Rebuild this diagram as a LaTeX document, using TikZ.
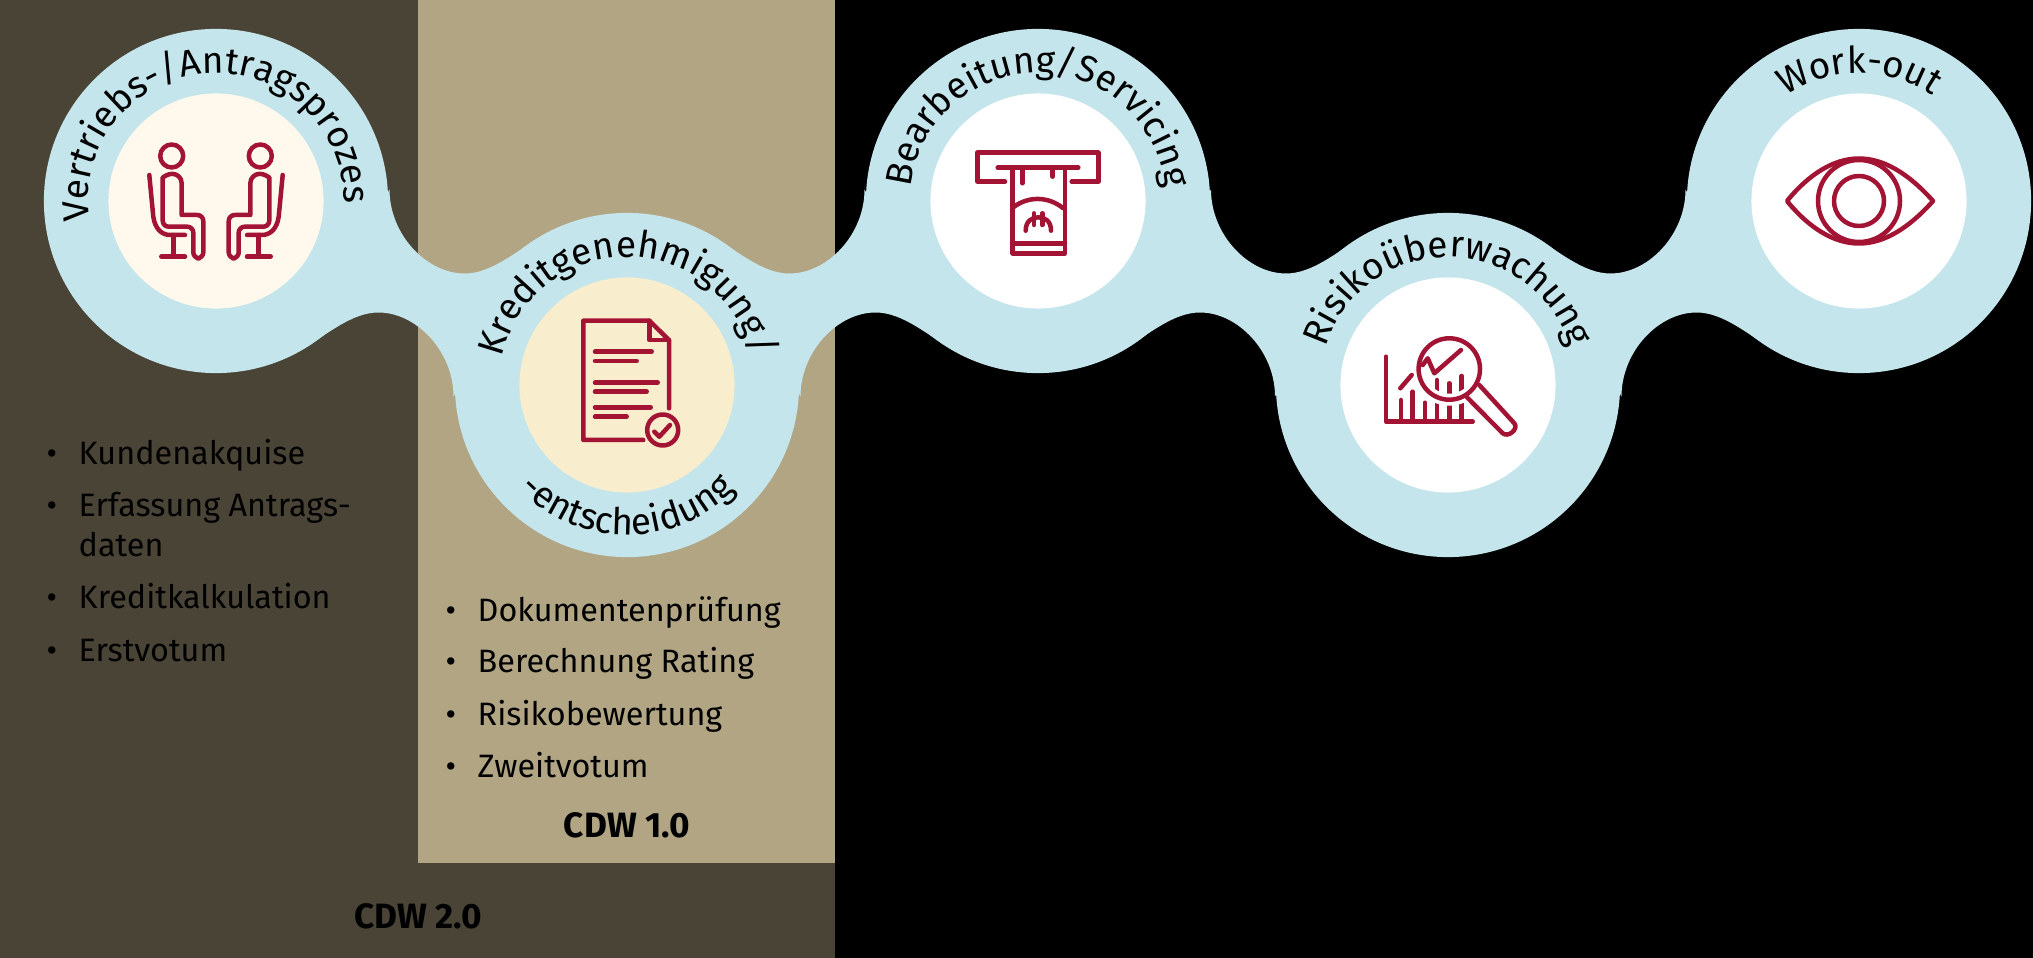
\documentclass[tikz,border=0pt]{standalone}
\usepackage{fontspec}
\setmainfont{Fira Sans}
\usetikzlibrary{calc, decorations.text}
\definecolor{bandblue}{RGB}{196, 229, 235}
\definecolor{iconred}{RGB}{163, 20, 52}
\definecolor{paneldark}{RGB}{74, 68, 54}
\definecolor{panellight}{RGB}{177, 165, 131}
\definecolor{innercream}{RGB}{254, 249, 236}
\definecolor{innersand}{RGB}{248, 238, 205}

\begin{document}
\begin{tikzpicture}[
  x=0.01cm, y=0.01cm,
  ringfont/.style={font=\fontsize{10.5}{12}\selectfont},
  outercircle/.style={
    circle,
    fill=bandblue,
    minimum size=3.44cm,
    inner sep=0pt,
  },
  innercircle/.style={
    circle,
    fill=#1,
    minimum size=2.15cm,
    inner sep=0pt,
  },
  arctext/.style={
    decorate,
    decoration={text along path, text align=center, text={|\fontsize{10.5}{12}\selectfont|#1}},
  },
  listitem/.style={
    anchor=base west,
    inner sep=0pt,
    font=\fontsize{9.2}{11}\selectfont,
  },
  cdwlabel/.style={
    anchor=base,
    inner sep=0pt,
    font=\fontsize{10}{12}\selectfont\bfseries,
  },
  iconline/.style={
    draw=iconred,
    line width=0.045cm,
    line cap=round,
    line join=round,
  },
]

  % panels
  \fill[black] (0,0) rectangle (2033,-958);
  \fill[paneldark] (0,0) rectangle (835,-958);
  \fill[panellight] (418,0) rectangle (835,-863);

  % big circles
  \node[outercircle] (c1) at (216,-201) {};
  \node[outercircle] (c2) at (627,-385) {};
  \node[outercircle] (c3) at (1038,-201) {};
  \node[outercircle] (c4) at (1448,-385) {};
  \node[outercircle] (c5) at (1859,-201) {};

  % necks between the circles
  \foreach \a/\b/\flip in {c1/c2/1, c2/c3/-1, c3/c4/1, c4/c5/-1} {
    \begin{scope}[shift={($(\a)!0.5!(\b)$)}, xscale=\flip]
      \fill[bandblue] (-32,103.5) .. controls (-32,58.5) and (5,19.5) .. (43,19.5)
        .. controls (70,19.5) and (94,41.5) .. (120,56.5)
        -- (32,-103.5) .. controls (32,-58.5) and (-5,-19.5) .. (-43,-19.5)
        .. controls (-70,-19.5) and (-94,-41.5) .. (-120,-56.5) -- cycle;
    \end{scope}
  }

  % inner circles
  \node[innercircle=innercream] (i1) at (c1) {};
  \node[innercircle=innersand] (i2) at (c2) {};
  \node[innercircle=white] (i3) at (c3) {};
  \node[innercircle=white] (i4) at (c4) {};
  \node[innercircle=white] (i5) at (c5) {};

  % ring texts
  \path[arctext={Vertriebs-/Antragsprozess}] ($(c1)+(-128,0)$) arc[start angle=180, end angle=0, radius=128];
  \path[arctext={Kreditgenehmigung/}] ($(c2)+(-128,0)$) arc[start angle=180, end angle=0, radius=128];
  \path[arctext={-entscheidung}] ($(c2)+(-150,0)$) arc[start angle=180, end angle=360, radius=150];
  \path[arctext={Bearbeitung/Servicing}] ($(c3)+(-128,0)$) arc[start angle=180, end angle=0, radius=128];
  \path[arctext={Risikoüberwachung}] ($(c4)+(-128,0)$) arc[start angle=180, end angle=0, radius=128];
  \path[arctext={Work-out}] ($(c5)+(-128,0)$) arc[start angle=180, end angle=0, radius=128];

  % people
  \begin{scope}[shift={(i1)}]
    \foreach \s in {1,-1} {
      \begin{scope}[xscale=\s]
        \draw[iconline] (-44.3,45) circle[radius=11.5];
        \draw[iconline] (-53.3,17.7) arc[start angle=180, end angle=0, radius=9.5]
          -- (-34.3,-14) [rounded corners=0.06cm] -- (-12.7,-14) -- (-12.7,-57.3) -- (-22.7,-57.3)
          -- (-22.7,-25.7) -- (-53.3,-25.7) -- cycle;
        \draw[iconline] (-66.7,26) -- (-62.7,-15.7) .. controls (-61,-28) and (-54,-34) .. (-46,-34) -- (-31,-34);
        \draw[iconline] (-42.7,-34) -- (-42.7,-55.7);
        \draw[iconline] (-54.7,-55.7) -- (-31,-55.7);
      \end{scope}
    }
  \end{scope}

  % document
  \begin{scope}[shift={(i2)}]
    \draw[iconline] (16.3,-55) -- (-43.7,-55) -- (-43.7,64.3) -- (22.3,64.3) -- (42,45) -- (42,-23.3);
    \draw[iconline] (22.3,64.3) -- (22.3,45) -- (42,45);
    \foreach \ly/\lx in {33.3/24.7, 24/9.7, 2.3/30.7, -6.7/19.7, -22.3/23.7, -31.7/-0.3}
      \draw[iconline] (-32,\ly) -- (\lx,\ly);
    \draw[iconline] (35.7,-45) circle[radius=15.5];
    \draw[iconline] (27.3,-46.7) -- (32.3,-51.7) -- (43,-40);
  \end{scope}

  % cash slot
  \begin{scope}[shift={(i3)}]
    \draw[iconline] (-33,19.3) -- (-60.7,19.3) -- (-60.7,48.3) -- (60.3,48.3) -- (60.3,19.3) -- (33.7,19.3);
    \draw[iconline] (-40.3,33.3) -- (40.3,33.3);
    \draw[iconline] (-25.3,33.3) -- (-25.3,-52.3) -- (27,-52.3) -- (27,33.3);
    \draw[iconline] (-15.7,33.3) -- (-15.7,17.7);
    \draw[iconline] (14.7,33.3) -- (14.7,24.3);
    \draw[iconline] (-25.3,-42.3) -- (27,-42.3);
    \draw[iconline] (-24.7,-6.3) .. controls (-10,5) and (10,5) .. (25.3,-7.3);
    \draw[iconline] (-12.3,-29.7) .. controls (-12.3,-20) and (-6,-16.3) .. (0.3,-16.3)
      .. controls (7,-16.3) and (13,-20) .. (13,-29.7);
    \draw[iconline] (-4,-12.3) -- (-4,-24);
    \draw[iconline] (4.3,-12.3) -- (4.3,-24);
  \end{scope}

  % chart with lens
  \begin{scope}[shift={(i4)}]
    \draw[iconline] (-62,28.3) -- (-62,-36.7) -- (24.7,-36.7);
    \foreach \bx/\bt in {-47/-15, -35.3/-6.7, -23/-17.7, -11/5, 1.3/1.7, 13.7/9}
      \draw[iconline] (\bx,-36.7) -- (\bx,\bt);
    \draw[white, line width=0.12cm] (1.3,16) circle[radius=30.7];
    \draw[iconline] (1.3,16) circle[radius=30.7];
    \draw[iconline] (-25.3,20) -- (-20.3,26.7) -- (-13.7,11.7) -- (13,35);
    \draw[iconline] (-47.7,-3.3) -- (-36.3,10);
    \draw[iconline] (31.3,0) -- (66.3,-38.3) .. controls (71,-44) and (60,-53) .. (54.7,-48.3) -- (19,-12.3);
  \end{scope}

  % eye
  \begin{scope}[shift={(i5)}]
    \draw[iconline] (-72,0) .. controls (-50,27) and (-25,42.5) .. (0,42.5)
      .. controls (25,42.5) and (50,27) .. (74,0)
      .. controls (50,-27) and (25,-42.5) .. (0,-42.5)
      .. controls (-25,-42.5) and (-50,-27) .. (-72,0) -- cycle;
    \draw[iconline] (0,0) circle[radius=41];
    \draw[iconline] (0,0) circle[radius=25];
  \end{scope}

  % left list
  \foreach \ly/\txt in {465/Kundenakquise, 517/Erfassung Antrags-, 609/Kreditkalkulation, 661/Erstvotum}
    \node[listitem] (l\ly) at (46,-\ly) {\makebox[0.32cm][l]{•}\txt};
  \node[listitem] (l557) at (78,-557) {daten};

  % right list
  \foreach \ly/\txt in {621/Dokumentenprüfung, 672/Berechnung Rating, 725/Risikobewertung, 777/Zweitvotum}
    \node[listitem] (r\ly) at (445,-\ly) {\makebox[0.32cm][l]{•}\txt};

  \node[cdwlabel] (cdw1) at (627,-837) {CDW 1.0};
  \node[cdwlabel] (cdw2) at (418,-928) {CDW 2.0};

\end{tikzpicture}
\end{document}
